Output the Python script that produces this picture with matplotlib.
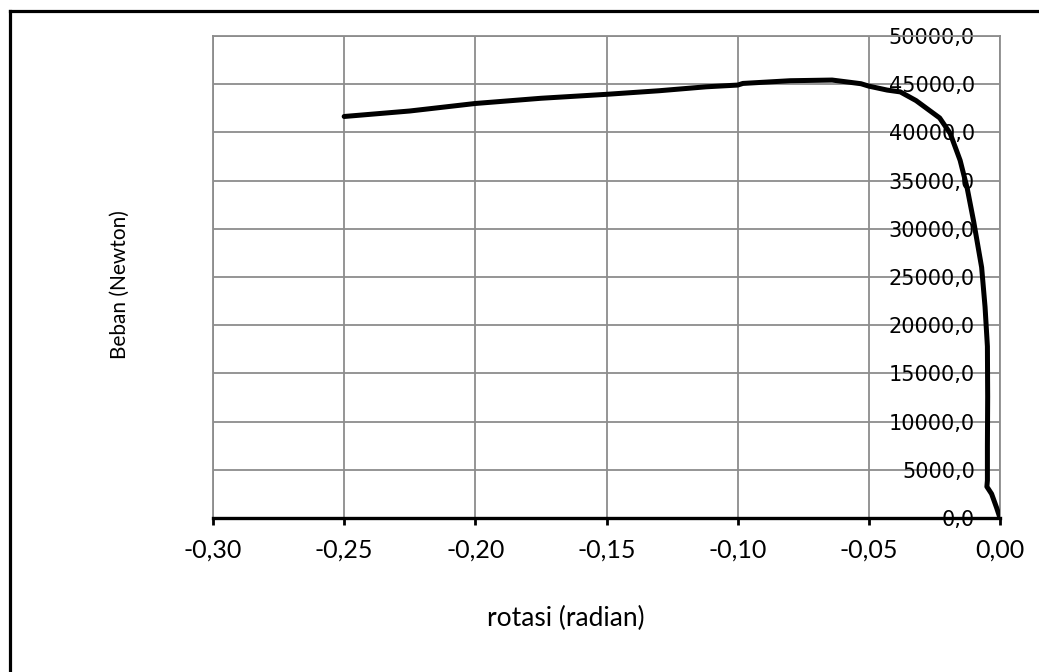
import matplotlib
matplotlib.use("Agg")
import matplotlib.pyplot as plt
from matplotlib.lines import Line2D
from matplotlib.ticker import FuncFormatter, MultipleLocator

# data
rotasi = [-0.2500, -0.2250, -0.2000, -0.1750, -0.1500, -0.1300, -0.1120, -0.1000,
          -0.0980, -0.0800, -0.0640, -0.0570, -0.0530, -0.0500, -0.0430, -0.0380,
          -0.0320, -0.0230, -0.0190, -0.0152, -0.0125, -0.0100, -0.0070, -0.0057,
          -0.0048, -0.0047, -0.0048, -0.0048, -0.0050, -0.0032, -0.0013, 0.0000]
beban = [41650, 42220, 43000, 43540, 43950, 44320, 44730, 44910,
         45080, 45360, 45430, 45190, 45050, 44800, 44390, 44200,
         43300, 41500, 39900, 37100, 34200, 30700, 26000, 21900,
         17800, 12600, 7400, 3900, 3250, 2500, 1070, 0]

x_label = "rotasi (radian)"
y_label = "Beban (Newton)"

W, H = 1039, 672
fig = plt.figure(figsize=(W / 100, H / 100), dpi=100)
plt.rcParams['font.family'] = ['Lato', 'DejaVu Sans']

ax = fig.add_axes([213 / W, 1 - 518 / H, (1000 - 213) / W, (518 - 36) / H])
ax.plot(rotasi, beban, color='black', lw=3.6, solid_capstyle='round',
        solid_joinstyle='round', zorder=3)

ax.set_xlim(-0.30, 0.0)
ax.set_ylim(0, 50000)
ax.xaxis.set_major_locator(MultipleLocator(0.05))
ax.yaxis.set_major_locator(MultipleLocator(5000))


def fx(v, pos):
    if abs(v) < 1e-9:
        v = 0.0
    return f"{v:.2f}".replace('.', ',')


def fy(v, pos):
    return f"{v:.1f}".replace('.', ',')


ax.xaxis.set_major_formatter(FuncFormatter(fx))
ax.yaxis.set_major_formatter(FuncFormatter(fy))

ax.grid(True, color='#8c8c8c', lw=1.3, zorder=0)
ax.set_axisbelow(True)
for s in ['left', 'top', 'right']:
    ax.spines[s].set_color('#8c8c8c')
    ax.spines[s].set_linewidth(1.3)
ax.spines['bottom'].set_color('black')
ax.spines['bottom'].set_linewidth(2.4)
ax.spines['bottom'].set_zorder(4)

ax.tick_params(axis='x', direction='out', length=5, width=2, color='black',
               labelsize=18, pad=10)
ax.tick_params(axis='y', length=0, labelleft=False, labelright=True,
               labelsize=15, pad=-18, labelfontfamily='DejaVu Sans')
for lab in ax.get_yticklabels():
    lab.set_horizontalalignment('right')

ax.set_xlabel(x_label, fontsize=19)
ax.xaxis.set_label_coords((566 - 213) / (1000 - 213), (518 - 618) / (518 - 36))
ax.xaxis.label.set_va('center')
ax.set_ylabel(y_label, fontsize=15, va='center', ha='center')
ax.yaxis.set_label_coords((120 - 213) / (1000 - 213), (518 - 285) / (518 - 36))

# outer chart border (only left and top visible)
fig.add_artist(Line2D([10 / W, 10 / W], [0, 1 - 10.5 / H], transform=fig.transFigure,
                      color='black', lw=2.3, solid_capstyle='projecting'))
fig.add_artist(Line2D([10 / W, 1], [1 - 10.5 / H, 1 - 10.5 / H], transform=fig.transFigure,
                      color='black', lw=2.3, solid_capstyle='projecting'))

fig.savefig("out.png", dpi=100, facecolor='white')
